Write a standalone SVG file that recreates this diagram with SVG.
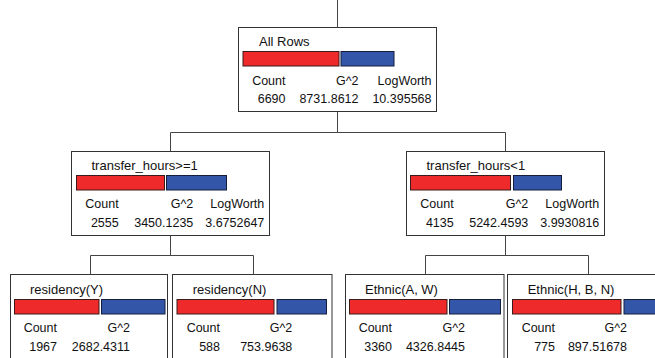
<svg xmlns="http://www.w3.org/2000/svg" width="655" height="358" viewBox="0 0 655 358">
<style>
.box{fill:#fff;stroke:#333;stroke-width:1}
.red{fill:#ee2a2a;stroke:#3a1a1a;stroke-width:1}
.blue{fill:#3456a8;stroke:#141e3c;stroke-width:1}
text{font-family:"Liberation Sans",Arial,sans-serif;font-size:12.5px;fill:#111}
.t{font-size:13px}
.r{text-anchor:end}
.conn{fill:none;stroke:#444;stroke-width:1}
</style>
<rect width="655" height="358" fill="#fff"/>
<g id="connectors">
<path class="conn" d="M337.5,0V27M337.5,111V132.5M170.5,132.5H505.5M170.5,132.5V151M505.5,132.5V151"/>
<path class="conn" d="M170.5,235V255.5M90.5,255.5H253.5M90.5,255.5V274M253.5,255.5V274"/>
<path class="conn" d="M505.5,235V255.5M425.5,255.5H588.5M425.5,255.5V274M588.5,255.5V274"/>
</g>
<g id="root">
<rect class="box" x="238.5" y="27.5" width="198" height="84"/>
<text class="t" x="259" y="45.5">All Rows</text>
<rect class="red" x="243" y="51.5" width="96" height="14.5"/>
<rect class="blue" x="341" y="51.5" width="53" height="14.5"/>
<text class="r" x="285.5" y="85">Count</text>
<text class="r" x="358.5" y="85">G^2</text>
<text class="r" x="431.5" y="85">LogWorth</text>
<text class="r" x="285.5" y="102.5">6690</text>
<text class="r" x="358.5" y="102.5">8731.8612</text>
<text class="r" x="431.5" y="102.5">10.395568</text>
</g>
<g id="left">
<rect class="box" x="71.5" y="151.5" width="198" height="84"/>
<text class="t" x="91.5" y="170">transfer_hours&gt;=1</text>
<rect class="red" x="76.5" y="175.5" width="88" height="14.5"/>
<rect class="blue" x="166.5" y="175.5" width="60" height="14.5"/>
<text class="r" x="118.7" y="208">Count</text>
<text class="r" x="193.3" y="208">G^2</text>
<text class="r" x="264.3" y="208">LogWorth</text>
<text class="r" x="118.7" y="227">2555</text>
<text class="r" x="193.3" y="227">3450.1235</text>
<text class="r" x="264.3" y="227">3.6752647</text>
</g>
<g id="right">
<rect class="box" x="406.5" y="151.5" width="198" height="84"/>
<text class="t" x="426.5" y="170">transfer_hours&lt;1</text>
<rect class="red" x="410.5" y="175.5" width="100" height="14.5"/>
<rect class="blue" x="513.5" y="175.5" width="48" height="14.5"/>
<text class="r" x="453.7" y="208">Count</text>
<text class="r" x="528.3" y="208">G^2</text>
<text class="r" x="599.3" y="208">LogWorth</text>
<text class="r" x="453.7" y="227">4135</text>
<text class="r" x="528.3" y="227">5242.4593</text>
<text class="r" x="599.3" y="227">3.9930816</text>
</g>
<g id="g1">
<rect class="box" x="10.5" y="274.5" width="157" height="100"/>
<text class="t" x="30" y="294">residency(Y)</text>
<rect class="red" x="14.5" y="299.5" width="84.5" height="14.5"/>
<rect class="blue" x="101.5" y="299.5" width="63.5" height="14.5"/>
<text class="r" x="57" y="332">Count</text>
<text class="r" x="130" y="332">G^2</text>
<text class="r" x="57" y="351">1967</text>
<text class="r" x="130" y="351">2682.4311</text>
</g>
<g id="g2">
<rect class="box" x="172.5" y="274.5" width="159.5" height="100"/>
<text class="t" x="192.7" y="294">residency(N)</text>
<rect class="red" x="177" y="299.5" width="97" height="14.5"/>
<rect class="blue" x="277" y="299.5" width="49.5" height="14.5"/>
<text class="r" x="220" y="332">Count</text>
<text class="r" x="292.3" y="332">G^2</text>
<text class="r" x="220" y="351">588</text>
<text class="r" x="292.3" y="351">753.9638</text>
</g>
<g id="g3">
<rect class="box" x="345.5" y="274.5" width="158.5" height="100"/>
<text class="t" x="365" y="294">Ethnic(A, W)</text>
<rect class="red" x="349.5" y="299.5" width="97.5" height="14.5"/>
<rect class="blue" x="449.5" y="299.5" width="51" height="14.5"/>
<text class="r" x="392" y="332">Count</text>
<text class="r" x="465" y="332">G^2</text>
<text class="r" x="392" y="351">3360</text>
<text class="r" x="465" y="351">4326.8445</text>
</g>
<g id="g4">
<rect class="box" x="507.5" y="274.5" width="170" height="100"/>
<text class="t" x="527.7" y="294">Ethnic(H, B, N)</text>
<rect class="red" x="512.5" y="299.5" width="108.5" height="14.5"/>
<rect class="blue" x="624" y="299.5" width="50" height="14.5"/>
<text class="r" x="555" y="332">Count</text>
<text class="r" x="627" y="332">G^2</text>
<text class="r" x="555" y="351">775</text>
<text class="r" x="627" y="351">897.51678</text>
</g>
</svg>
